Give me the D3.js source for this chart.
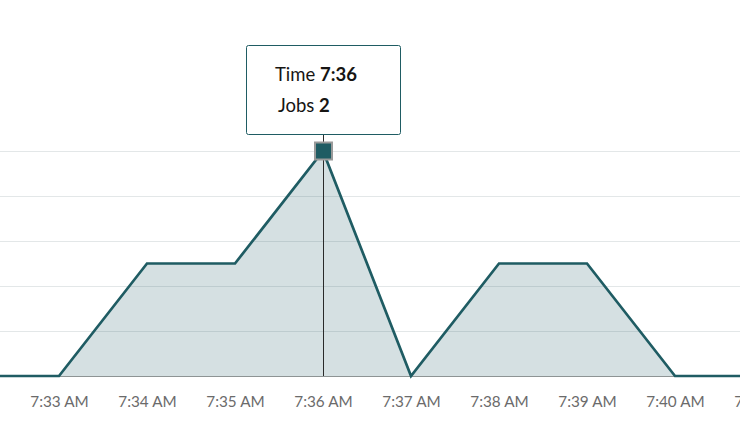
<!DOCTYPE html>
<html>
<head>
<meta charset="utf-8">
<script src="https://cdn.jsdelivr.net/npm/d3@7"></script>
<style>
  body { margin: 0; background: #fff; font-family: Lato, "Open Sans", sans-serif; }
  .tick text { fill: #6b6b6b; font-size: 15.3px; font-family: Lato, sans-serif; }
</style>
</head>
<body>
<script>
var svgWidth = 740;
var svgHeight = 434;

// data
var times = ["7:32", "7:33", "7:34", "7:35", "7:36", "7:37", "7:38", "7:39", "7:40", "7:41"];
var jobs = [0, 0, 1, 1, 2, 0, 1, 1, 0, 0];
var tickTimes = ["7:33", "7:34", "7:35", "7:36", "7:37", "7:38", "7:39", "7:40", "7:41"];
var gridValues = [0, 0.4, 0.8, 1.2, 1.6, 2];
var hoverIndex = 4;

var parseTime = d3.timeParse("%H:%M");
var data = times.map((t, i) => ({ time: parseTime(t), jobs: jobs[i] }));

var svg = d3.select("body")
            .append("svg")
            .attr("width", svgWidth)
            .attr("height", svgHeight);

var xScale = d3.scaleTime()
               .domain(d3.extent(data, d => d.time))
               .range([-29, 763]);

var yScale = d3.scaleLinear()
               .domain([0, 2])
               .range([376, 151]);

// gridlines
svg.append("g")
   .selectAll("line")
   .data(gridValues.slice(1))
   .enter()
   .append("line")
   .attr("x1", 0)
   .attr("x2", svgWidth)
   .attr("y1", d => yScale(d) + 0.5)
   .attr("y2", d => yScale(d) + 0.5)
   .attr("stroke", "#e3e7e8")
   .attr("stroke-width", 1);

var area = d3.area()
             .x(d => xScale(d.time))
             .y0(yScale(0))
             .y1(d => yScale(d.jobs));

var line = d3.line()
             .x(d => xScale(d.time))
             .y(d => yScale(d.jobs));

svg.append("path")
   .datum(data)
   .attr("d", area)
   .attr("fill", "#1f5c63")
   .attr("fill-opacity", 0.19);

// x axis
var xAxis = svg.append("g")
               .attr("transform", `translate(0, ${yScale(0)})`)
               .call(d3.axisBottom(xScale)
                       .tickValues(tickTimes.map(parseTime))
                       .tickFormat(d3.timeFormat("%-I:%M %p"))
                       .tickSize(0)
                       .tickPadding(20));
xAxis.select(".domain").remove();

svg.append("line")
   .attr("x1", 0)
   .attr("x2", svgWidth)
   .attr("y1", yScale(0) + 0.5)
   .attr("y2", yScale(0) + 0.5)
   .attr("stroke", "#8e9494")
   .attr("stroke-width", 1);

svg.append("path")
   .datum(data)
   .attr("d", line)
   .attr("fill", "none")
   .attr("stroke", "#1f5c63")
   .attr("stroke-width", 2.7)
   .attr("stroke-linejoin", "miter");

// hover crosshair + tooltip
var hp = data[hoverIndex];
var hx = Math.round(xScale(hp.time)) + 0.5;
var hy = yScale(hp.jobs);

svg.append("line")
   .attr("x1", hx)
   .attr("x2", hx)
   .attr("y1", 134)
   .attr("y2", yScale(0))
   .attr("stroke", "#2a2a2a")
   .attr("stroke-width", 1);

svg.append("rect")
   .attr("x", hx - 8.5)
   .attr("y", hy - 8.5)
   .attr("width", 17)
   .attr("height", 17)
   .attr("fill", "#1f5c63")
   .attr("stroke", "#9a9a9a")
   .attr("stroke-width", 2);

var tip = svg.append("g")
             .attr("transform", "translate(246, 45)");

tip.append("rect")
   .attr("x", 0.5)
   .attr("y", 0.5)
   .attr("width", 154)
   .attr("height", 89)
   .attr("rx", 2)
   .attr("fill", "#fff")
   .attr("stroke", "#1f5c63")
   .attr("stroke-width", 1);

var rows = [["Time", d3.timeFormat("%-I:%M")(hp.time), 29, 35.5], ["Jobs", hp.jobs, 32, 67]];
rows.forEach(r => {
    var t = tip.append("text")
               .attr("x", r[2])
               .attr("y", r[3])
               .attr("font-size", 18.5)
               .attr("fill", "#161513");
    t.append("tspan").text(r[0] + " ");
    t.append("tspan").attr("font-weight", "bold").text(r[1]);
});
</script>
</body>
</html>
